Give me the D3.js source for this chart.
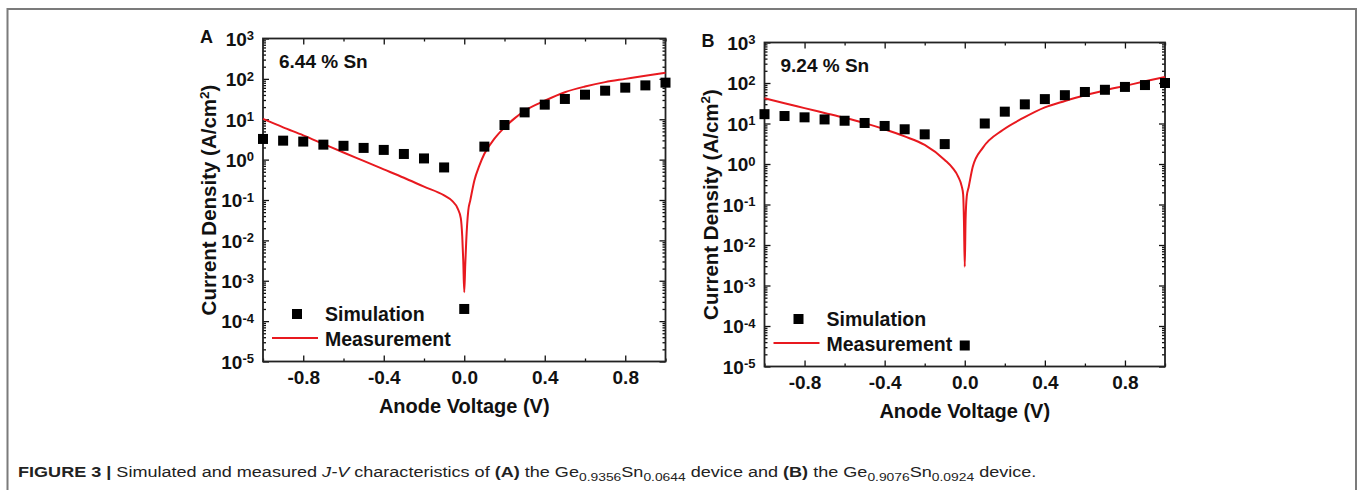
<!DOCTYPE html>
<html>
<head>
<meta charset="utf-8">
<script src="https://cdn.jsdelivr.net/npm/d3@7"></script>
<style>
  body { margin: 0; background: #fff; }
  svg { display: block; font-family: "Liberation Sans", Arial, sans-serif; }
</style>
</head>
<body>
<svg id="fig" width="1362" height="490"></svg>
<script>
// Simulation points (squares), same voltage grid in both panels
const simVolts = [-1.0, -0.9, -0.8, -0.7, -0.6, -0.5, -0.4, -0.3, -0.2, -0.1, 0.0,
                  0.1, 0.2, 0.3, 0.4, 0.5, 0.6, 0.7, 0.8, 0.9, 1.0];
const simA = [3.25, 2.95, 2.8, 2.35, 2.2, 1.95, 1.74, 1.38, 1.07, 0.64, 2.0e-4,
              2.1, 7.2, 14.8, 23, 31.8, 40.6, 51, 60.6, 69, 80.6];
const simB = [17, 15.3, 14.2, 12.6, 11.7, 10.3, 8.7, 7.2, 5.4, 3.1, 3.3e-5,
              10, 19.6, 29.7, 40, 50, 60, 68, 80, 89, 100];

// Measurement curves (red lines)
const measVoltsA = [-1.0, -0.9, -0.8, -0.7, -0.6, -0.5, -0.4, -0.3, -0.2, -0.1, -0.06, -0.033,
                    -0.017, -0.01, -0.005, 0, 0.005, 0.01, 0.02, 0.03, 0.05, 0.075, 0.1,
                    0.15, 0.2, 0.25, 0.3, 0.4, 0.5, 0.6, 0.7, 0.8, 0.9, 1.0];
const measA = [10.2, 6.3, 4.0, 2.45, 1.5, 0.93, 0.575, 0.355, 0.214, 0.13, 0.095, 0.062,
               0.035, 0.0126, 0.0032, 0.00052, 0.0025, 0.01, 0.055, 0.098, 0.30, 0.71, 1.4,
               3.3, 6.3, 10.5, 16.2, 28.8, 46.8, 64.6, 83, 100, 120, 141];
const measVoltsB = [-1.0, -0.9, -0.8, -0.7, -0.6, -0.5, -0.4, -0.3, -0.2, -0.1, -0.06, -0.033,
                    -0.015, -0.008, -0.004, 0, 0.004, 0.01, 0.02, 0.04, 0.09, 0.19, 0.29,
                    0.4, 0.5, 0.6, 0.7, 0.8, 0.9, 1.0];
const measB = [42, 31.6, 24, 18.2, 13.8, 10.2, 7.2, 4.8, 2.95, 1.26, 0.79, 0.49,
               0.28, 0.178, 0.04, 0.0029, 0.04, 0.158, 0.275, 0.85, 2.5, 6.9, 13.5,
               25, 36, 50, 66, 85, 110, 141];

// Axis ticks
const xMajor = [-0.8, -0.4, 0.0, 0.4, 0.8];
const xMinor = [-1.0, -0.6, -0.2, 0.2, 0.6, 1.0];
const yExps = [-5, -4, -3, -2, -1, 0, 1, 2, 3];

const panels = [
  { letter: 'A', tag: '6.44 % Sn', sim: simA, mv: measVoltsA, meas: measA,
    left: 263, right: 665.5, top: 38.5, bottom: 361.5 },
  { letter: 'B', tag: '9.24 % Sn', sim: simB, mv: measVoltsB, meas: measB,
    left: 764.5, right: 1165, top: 42.5, bottom: 366.5 }
];

const svg = d3.select('#fig');
const ink = '#111';
const red = '#e8191f';

// outer frame (open at the bottom)
svg.append('path')
  .attr('d', 'M7.5,495 V9 H1356 V495')
  .attr('fill', 'none')
  .attr('stroke', '#7b7b7b')
  .attr('stroke-width', 2);

function drawPanel(p) {
  const g = svg.append('g');
  const x = d3.scaleLinear().domain([-1, 1]).range([p.left, p.right]);
  const y = d3.scaleLog().domain([1e-5, 1e3]).range([p.bottom, p.top]);

  const minorY = [];
  yExps.slice(0, -1).forEach(e => {
    for (let k = 2; k < 10; k++) minorY.push(k * Math.pow(10, e));
  });
  const majorY = yExps.map(e => Math.pow(10, e));

  const tickStyle = sel => {
    sel.select('.domain').remove();
    sel.selectAll('line').attr('stroke', ink).attr('stroke-width', 1.3);
  };

  // bottom axis
  g.append('g').attr('transform', `translate(0,${p.bottom})`)
    .call(d3.axisBottom(x).tickValues(xMinor).tickSize(-3).tickFormat(''))
    .call(tickStyle);
  const bx = g.append('g').attr('transform', `translate(0,${p.bottom})`)
    .call(d3.axisBottom(x).tickValues(xMajor).tickSize(-6).tickPadding(0)
      .tickFormat(v => v.toFixed(1)))
    .call(tickStyle);
  bx.selectAll('text')
    .attr('y', 22).attr('dy', 0)
    .attr('fill', ink)
    .attr('font-size', 19).attr('font-weight', 'bold')
    .attr('font-family', '"Liberation Sans", Arial, sans-serif');

  // top axis (ticks only)
  g.append('g').attr('transform', `translate(0,${p.top})`)
    .call(d3.axisTop(x).tickValues(xMinor).tickSize(-3).tickFormat(''))
    .call(tickStyle);
  g.append('g').attr('transform', `translate(0,${p.top})`)
    .call(d3.axisTop(x).tickValues(xMajor).tickSize(-6).tickFormat(''))
    .call(tickStyle);

  // left axis
  g.append('g').attr('transform', `translate(${p.left},0)`)
    .call(d3.axisLeft(y).tickValues(minorY).tickSize(-3).tickFormat(''))
    .call(tickStyle);
  const ly = g.append('g').attr('transform', `translate(${p.left},0)`)
    .call(d3.axisLeft(y).tickValues(majorY).tickSize(-6).tickFormat(''))
    .call(tickStyle);
  ly.selectAll('.tick').each(function(d) {
    const e = Math.round(Math.log10(d));
    const t = d3.select(this).append('text')
      .attr('x', -9).attr('y', 6.8)
      .attr('text-anchor', 'end')
      .attr('fill', ink)
      .attr('font-weight', 'bold')
      .attr('font-family', '"Liberation Sans", Arial, sans-serif');
    t.append('tspan').attr('font-size', 19).text('10');
    t.append('tspan').attr('font-size', 13).attr('dy', -5.5).text(e < 0 ? '-' + (-e) : String(e));
  });

  // right axis (ticks only)
  g.append('g').attr('transform', `translate(${p.right},0)`)
    .call(d3.axisRight(y).tickValues(minorY).tickSize(-3).tickFormat(''))
    .call(tickStyle);
  g.append('g').attr('transform', `translate(${p.right},0)`)
    .call(d3.axisRight(y).tickValues(majorY).tickSize(-6).tickFormat(''))
    .call(tickStyle);

  // frame
  g.append('rect')
    .attr('x', p.left).attr('y', p.top)
    .attr('width', p.right - p.left).attr('height', p.bottom - p.top)
    .attr('fill', 'none').attr('stroke', '#222').attr('stroke-width', 1.8);

  // measurement line
  const line = d3.line()
    .x((d, i) => x(p.mv[i]))
    .y(d => y(d))
    .curve(d3.curveMonotoneX);
  g.append('path')
    .datum(p.meas)
    .attr('d', line)
    .attr('fill', 'none')
    .attr('stroke', red)
    .attr('stroke-width', 2);

  // simulation squares
  const s = 10;
  g.selectAll('rect.sim')
    .data(p.sim)
    .join('rect')
    .attr('class', 'sim')
    .attr('x', (d, i) => x(simVolts[i]) - s / 2)
    .attr('y', d => y(d) - s / 2)
    .attr('width', s).attr('height', s)
    .attr('fill', '#000');

  // axis titles
  g.append('text')
    .attr('x', (p.left + p.right) / 2).attr('y', p.bottom + 51)
    .attr('text-anchor', 'middle')
    .attr('font-size', 20).attr('font-weight', 'bold').attr('fill', ink)
    .text('Anode Voltage (V)');
  const yt = g.append('text')
    .attr('transform', `translate(${p.left - 47},${(p.top + p.bottom) / 2}) rotate(-90)`)
    .attr('text-anchor', 'middle')
    .attr('font-size', 20.5).attr('font-weight', 'bold').attr('fill', ink);
  yt.append('tspan').text('Current Density (A/cm');
  yt.append('tspan').attr('font-size', 13.5).attr('dy', -7.5).text('2');
  yt.append('tspan').attr('dy', 7.5).text(')');

  // panel letter and composition
  g.append('text')
    .attr('x', p.left - 63).attr('y', p.top + 4)
    .attr('font-size', 18).attr('font-weight', 'bold').attr('fill', ink)
    .text(p.letter);
  g.append('text')
    .attr('x', p.left + 16).attr('y', p.top + 29.5)
    .attr('font-size', 19).attr('font-weight', 'bold').attr('fill', ink)
    .text(p.tag);

  // legend
  const lx = p.left, lyb = p.bottom;
  g.append('rect')
    .attr('x', lx + 34 - s / 2).attr('y', lyb - 47.5 - s / 2)
    .attr('width', s).attr('height', s).attr('fill', '#000');
  g.append('text')
    .attr('x', lx + 62).attr('y', lyb - 41)
    .attr('font-size', 19.5).attr('font-weight', 'bold').attr('fill', ink)
    .text('Simulation');
  g.append('line')
    .attr('x1', lx + 9).attr('x2', lx + 55)
    .attr('y1', lyb - 23.5).attr('y2', lyb - 23.5)
    .attr('stroke', red).attr('stroke-width', 2);
  g.append('text')
    .attr('x', lx + 62).attr('y', lyb - 16)
    .attr('font-size', 19.5).attr('font-weight', 'bold').attr('fill', ink)
    .text('Measurement');
}

panels.forEach(drawPanel);

// caption
const cap = svg.append('text')
  .attr('font-size', 15).attr('fill', '#222');
const parts = [
  ['FIGURE 3 | ', 'b'], ['Simulated and measured ', ''], ['J-V', 'i'],
  [' characteristics of ', ''], ['(A)', 'b'], [' the Ge', ''], ['0.9356', 'sub'],
  ['Sn', 'up'], ['0.0644', 'sub'], [' device and ', 'up'], ['(B)', 'b'], [' the Ge', ''],
  ['0.9076', 'sub'], ['Sn', 'up'], ['0.0924', 'sub'], [' device.', 'up']
];
parts.forEach(([txt, k]) => {
  const t = cap.append('tspan').text(txt);
  if (k === 'b') t.attr('font-weight', 'bold');
  if (k === 'i') t.attr('font-style', 'italic');
  if (k === 'sub') t.attr('font-size', 11.5).attr('dy', 4);
  if (k === 'up') t.attr('dy', -4);
});
const capW = cap.node().getComputedTextLength();
const sx = 1019 / capW;
cap.attr('transform', `translate(18,477) scale(${sx},1)`);
</script>
</body>
</html>
